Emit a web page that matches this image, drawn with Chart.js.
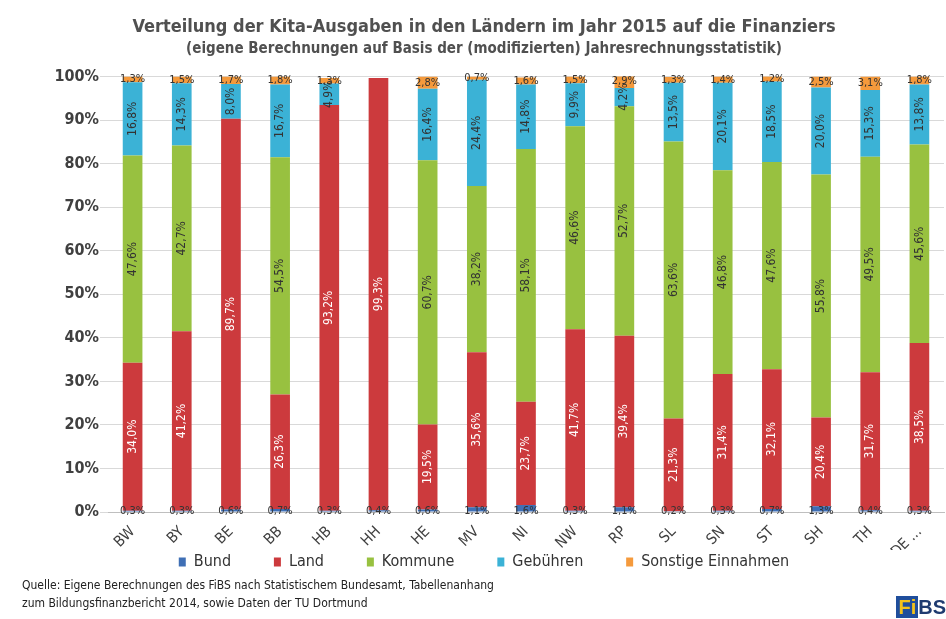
<!DOCTYPE html>
<html>
<head>
<meta charset="utf-8">
<script src="https://cdn.jsdelivr.net/npm/chart.js@4/dist/chart.umd.min.js"></script>
<style>
  html, body { margin: 0; padding: 0; background: #fff; }
  #wrap { position: relative; width: 946px; height: 619px; }
  #quelle { position: absolute; left: 22px; top: 576px; font: 12px "Liberation Sans Narrow", "DejaVu Sans Condensed", sans-serif; color: #222; line-height: 18px; }
  #logo { position: absolute; right: 0; top: 596px; font: bold 20px "Liberation Sans Narrow", sans-serif; color: #1f3b70; }
  #logo span { background: #1f4e9c; color: #f2c21b; padding: 0 2px; }
</style>
</head>
<body>
<div id="wrap">
  <canvas id="kitaChart" width="946" height="619"></canvas>
  <div id="quelle">Quelle: Eigene Berechnungen des FiBS nach Statistischem Bundesamt, Tabellenanhang<br>zum Bildungsfinanzbericht 2014, sowie Daten der TU Dortmund</div>
  <div id="logo"><span>Fi</span>BS</div>
</div>
<script>
const laender = ['BW', 'BY', 'BE', 'BB', 'HB', 'HH', 'HE', 'MV', 'NI', 'NW', 'RP', 'SL', 'SN', 'ST', 'SH', 'TH', 'DE ...'];
const bund     = [0.3, 0.3, 0.6, 0.7, 0.3, 0.4, 0.6, 1.1, 1.6, 0.3, 1.1, 0.2, 0.3, 0.7, 1.3, 0.4, 0.3];
const land     = [34.0, 41.2, 89.7, 26.3, 93.2, 99.3, 19.5, 35.6, 23.7, 41.7, 39.4, 21.3, 31.4, 32.1, 20.4, 31.7, 38.5];
const kommune  = [47.6, 42.7, 0, 54.5, 0, 0, 60.7, 38.2, 58.1, 46.6, 52.7, 63.6, 46.8, 47.6, 55.8, 49.5, 45.6];
const gebuehren = [16.8, 14.3, 8.0, 16.7, 4.9, 0, 16.4, 24.4, 14.8, 9.9, 4.2, 13.5, 20.1, 18.5, 20.0, 15.3, 13.8];
const sonstige = [1.3, 1.5, 1.7, 1.8, 1.3, 0, 2.8, 0.7, 1.6, 1.5, 2.9, 1.3, 1.4, 1.2, 2.5, 3.1, 1.8];

const schrift = '"Liberation Sans Narrow", "DejaVu Sans Condensed", sans-serif';

function fmt(v) { return v.toFixed(1).replace('.', ',') + '%'; }

// Beschriftung der Segmente
const wertLabels = {
    id: 'wertLabels',
    afterDatasetsDraw(chart) {
        const ctx = chart.ctx;
        chart.data.datasets.forEach(function (ds, i) {
            const meta = chart.getDatasetMeta(i);
            if (meta.hidden) return;
            meta.data.forEach(function (bar, j) {
                const v = ds.data[j];
                if (!v) return;
                ctx.save();
                ctx.textAlign = 'center';
                ctx.textBaseline = 'middle';
                if (i === 0 || i === 4) {
                    ctx.font = '11px ' + schrift;
                    ctx.fillStyle = '#333';
                    const y = i === 0 ? chart.chartArea.bottom - 1 : (bar.y + bar.base) / 2;
                    ctx.fillText(fmt(v), bar.x, y);
                } else {
                    ctx.font = '12px ' + schrift;
                    ctx.fillStyle = i === 1 ? '#fff' : '#333';
                    ctx.translate(bar.x, (bar.y + bar.base) / 2);
                    ctx.rotate(-Math.PI / 2);
                    ctx.fillText(fmt(v), 0, 0);
                }
                ctx.restore();
            });
        });
    }
};

new Chart(document.getElementById('kitaChart').getContext('2d'), {
    type: 'bar',
    data: {
        labels: laender,
        datasets: [
            { label: 'Bund', data: bund, backgroundColor: '#3f6fb5' },
            { label: 'Land', data: land, backgroundColor: '#cc3a3d' },
            { label: 'Kommune', data: kommune, backgroundColor: '#98c140' },
            { label: 'Gebühren', data: gebuehren, backgroundColor: '#3bb2d6' },
            { label: 'Sonstige Einnahmen', data: sonstige, backgroundColor: '#f59a3c' }
        ]
    },
    options: {
        responsive: false,
        animation: false,
        layout: { padding: { top: 10, right: 2, left: 24, bottom: 39 } },
        datasets: { bar: { barPercentage: 0.8, categoryPercentage: 0.5 } },
        scales: {
            x: {
                stacked: true,
                grid: { display: false },
                border: { color: '#bfbfbf' },
                ticks: { color: '#404040', maxRotation: 45, minRotation: 45, font: { family: schrift, size: 15 } },
                afterFit: function (scale) { scale.height = 38; }
            },
            y: {
                stacked: true,
                min: 0,
                max: 100,
                grid: { color: '#d9d9d9' },
                border: { display: false },
                ticks: { stepSize: 10, color: '#404040', padding: 1, font: { family: schrift, size: 16, weight: 'bold' }, callback: function (v) { return v + '%'; } },
                afterFit: function (scale) { scale.width = 84; }
            }
        },
        plugins: {
            title: { display: true, text: 'Verteilung der Kita-Ausgaben in den Ländern im Jahr 2015 auf die Finanziers', color: '#505050', font: { family: schrift, size: 18, weight: 'bold' }, padding: { top: 7, bottom: 2 } },
            subtitle: { display: true, text: '(eigene Berechnungen auf Basis der (modifizierten) Jahresrechnungsstatistik)', color: '#505050', font: { family: schrift, size: 15, weight: 'bold' }, padding: { bottom: 18 } },
            legend: {
                position: 'bottom',
                labels: {
                    boxWidth: 7, boxHeight: 9, padding: 4, color: '#333', font: { family: schrift, size: 16 },
                    generateLabels: function (chart) {
                        const items = Chart.defaults.plugins.legend.labels.generateLabels(chart);
                        items.forEach(function (it, k) {
                            if (k < items.length - 1) it.text = it.text + '\u2003\u2003\u2002\u2009';
                        });
                        return items;
                    }
                }
            },
            tooltip: { enabled: false }
        }
    },
    plugins: [wertLabels]
});
</script>
</body>
</html>
